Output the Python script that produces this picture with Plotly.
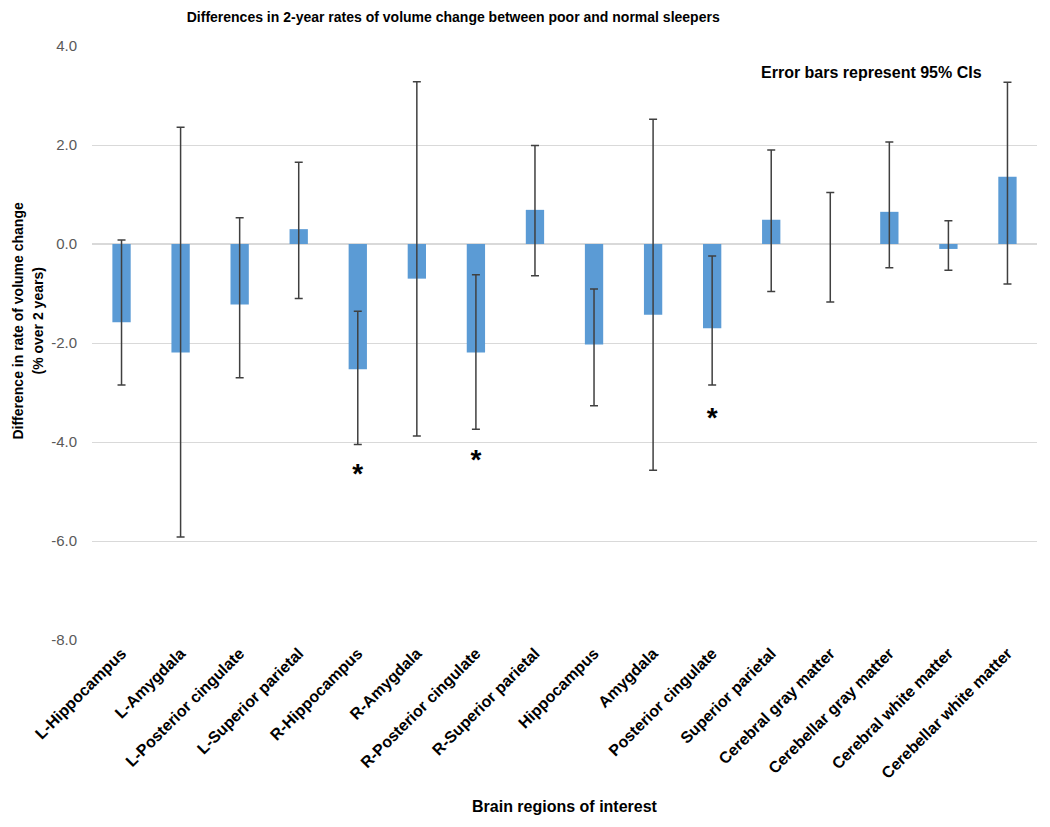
import plotly.graph_objects as go

# Brain regions and differences in 2-year rate of volume change (%)
regions = [
    "L-Hippocampus", "L-Amygdala", "L-Posterior cingulate", "L-Superior parietal",
    "R-Hippocampus", "R-Amygdala", "R-Posterior cingulate", "R-Superior parietal",
    "Hippocampus", "Amygdala", "Posterior cingulate", "Superior parietal",
    "Cerebral gray matter", "Cerebellar gray matter", "Cerebral white matter",
    "Cerebellar white matter",
]
diff = [-1.58, -2.19, -1.22, 0.30, -2.53, -0.70, -2.19, 0.69,
        -2.03, -1.43, -1.70, 0.49, 0.0, 0.65, -0.10, 1.36]
ci_upper = [0.08, 2.36, 0.53, 1.65, -1.36, 3.28, -0.62, 1.99,
            -0.91, 2.52, -0.24, 1.90, 1.04, 2.06, 0.47, 3.27]
ci_lower = [-2.85, -5.92, -2.70, -1.10, -4.05, -3.88, -3.74, -0.64,
            -3.27, -4.57, -2.85, -0.96, -1.17, -0.48, -0.53, -0.81]

# significance markers
star_regions = ["R-Hippocampus", "R-Posterior cingulate", "Posterior cingulate"]
star_y = [-4.68, -4.41, -3.56]

y_ticks = [-8, -6, -4, -2, 0, 2, 4]
y_ticktext = ["-8.0", "-6.0", "-4.0", "-2.0", "0.0", "2.0", "4.0"]

font = "Arial, Liberation Sans, sans-serif"

err_plus = [u - v for u, v in zip(ci_upper, diff)]
err_minus = [v - l for v, l in zip(diff, ci_lower)]

fig = go.Figure()
fig.add_trace(go.Bar(
    x=regions, y=diff,
    marker=dict(color="#5b9bd5", line=dict(width=0)),
    width=0.31,
    error_y=dict(type="data", array=err_plus, arrayminus=err_minus,
                 color="#404040", thickness=1.5, width=4),
    showlegend=False,
))
fig.add_trace(go.Scatter(
    x=star_regions, y=star_y, mode="text", text=["<b>*</b>"] * len(star_regions),
    textfont=dict(family=font, size=28, color="black"),
    showlegend=False, hoverinfo="skip",
))

fig.update_layout(
    width=1050, height=827,
    margin=dict(l=83.5, r=21, t=38, b=195),
    paper_bgcolor="white", plot_bgcolor="white",
    font=dict(family=font, color="#000000"),
    title=dict(
        text="<b>Differences in 2-year rates of volume change between poor and normal sleepers</b>",
        x=0.424, xanchor="center", y=0.989, yanchor="middle",
        font=dict(size=14, color="#000000"),
    ),
    xaxis=dict(
        tickangle=-45, showgrid=False, zeroline=False, showline=False,
        tickfont=dict(size=16, color="#000000", family=font, weight="bold"),
    ),
    yaxis=dict(
        range=[-8, 4], tickvals=y_ticks, ticktext=y_ticktext,
        showgrid=True, gridcolor="#d9d9d9", gridwidth=1.2,
        zeroline=True, zerolinecolor="#d9d9d9", zerolinewidth=1.5,
        showline=False, ticks="", ticklabelstandoff=14,
        tickfont=dict(size=15, color="#595959"),
    ),
    annotations=[
        dict(text="<b>Difference in rate of volume change</b>",
             xref="paper", yref="paper", x=-0.0788, y=0.537, textangle=-90,
             showarrow=False, font=dict(size=14, color="#000000"),
             xanchor="center", yanchor="middle"),
        dict(text="<b>(% over 2 years)</b>",
             xref="paper", yref="paper", x=-0.0566, y=0.537, textangle=-90,
             showarrow=False, font=dict(size=14, color="#000000"),
             xanchor="center", yanchor="middle"),
        dict(text="<b>Brain regions of interest</b>",
             xref="paper", yref="paper", x=0.5, y=-0.281,
             showarrow=False, font=dict(size=16, color="#000000"),
             xanchor="center", yanchor="middle"),
        dict(text="<b>Error bars represent 95% CIs</b>",
             xref="paper", yref="paper", x=0.825, y=0.955,
             showarrow=False, font=dict(size=16, color="#000000"),
             xanchor="center", yanchor="middle"),
    ],
)

fig.write_html("out.html")
